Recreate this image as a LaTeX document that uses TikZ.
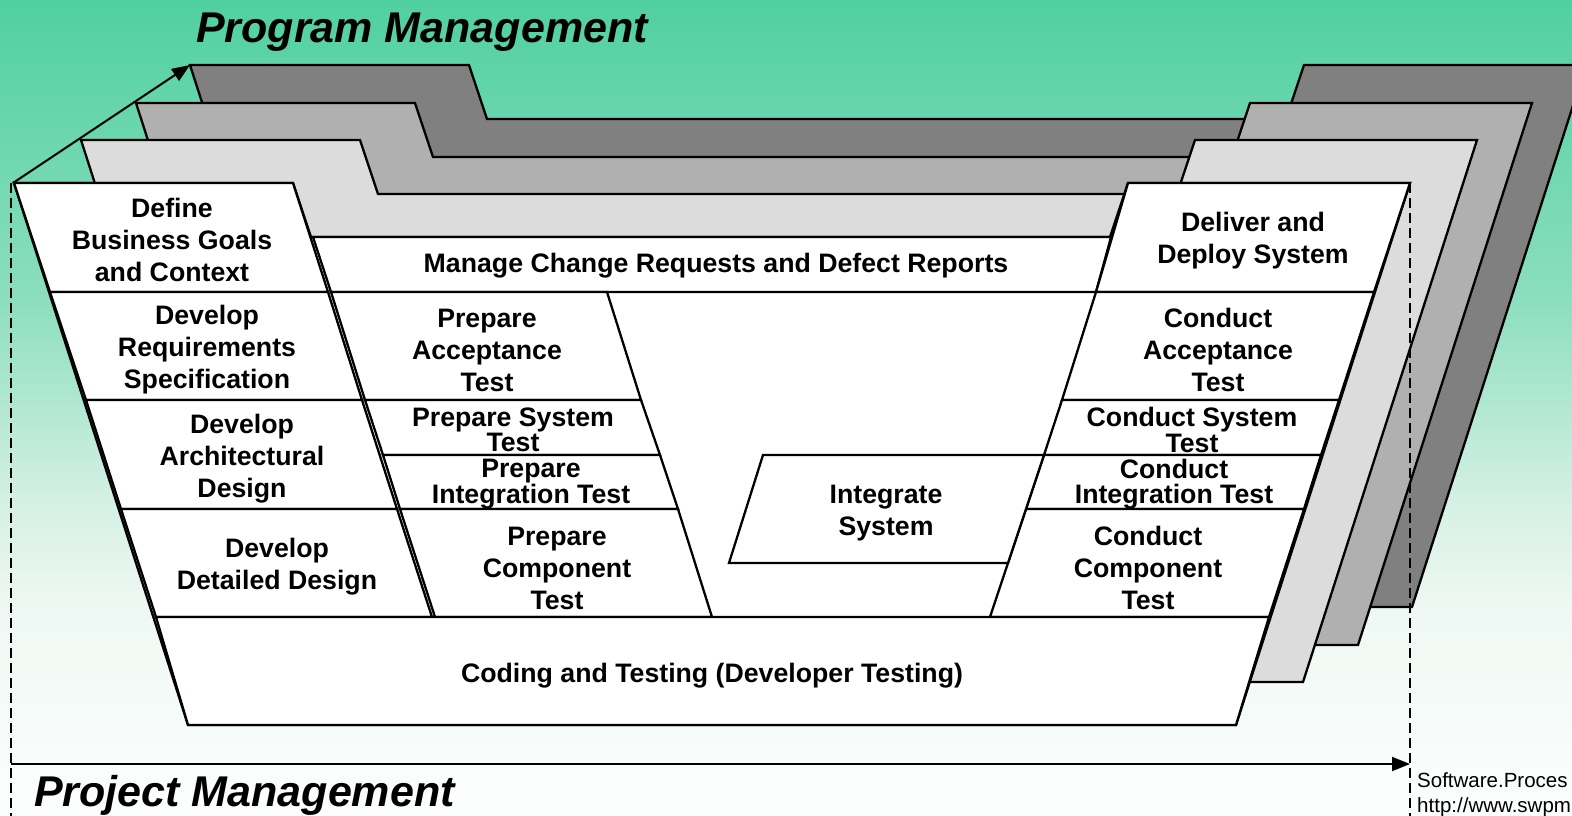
\documentclass[tikz,border=0pt]{standalone}
\usepackage{fontspec}
\setmainfont{Liberation Sans}
\usetikzlibrary{arrows.meta}
\definecolor{dkg}{RGB}{128,128,128}
\definecolor{mdg}{RGB}{176,176,176}
\definecolor{ltg}{RGB}{220,220,220}
\definecolor{bga}{RGB}{252,254,253}
\definecolor{bgb}{RGB}{238,248,243}
\definecolor{bgc}{RGB}{212,240,229}
\definecolor{bgd}{RGB}{140,222,190}
\definecolor{bge}{RGB}{80,208,162}
\pgfdeclareverticalshading{bgshade}{100bp}{color(0bp)=(bga); color(25bp)=(bga); color(38bp)=(bgb); color(44.4bp)=(bgc); color(56.6bp)=(bgd); color(75bp)=(bge); color(100bp)=(bge)}
\newcommand\cellfont{\fontsize{26.7}{32}\selectfont\bfseries}
\newcommand\tightfont{\fontsize{26.7}{25.5}\selectfont\bfseries}
\newcommand\titlefont{\fontsize{43}{48}\selectfont\bfseries\itshape}
\newcommand\smallfont{\fontsize{20.5}{25}\selectfont}
\newcommand\sheetlayer[2]{%
  \begin{scope}[shift={(#1)}]
    \filldraw[sheetline, fill=#2] (14,183) -- (293,183) -- (311,237) -- (1110,237) -- (1128,183) -- (1410,183) -- (1236,725) -- (188,725) -- cycle;
  \end{scope}}
\begin{document}
\begin{tikzpicture}[x=1pt,y=-1pt,
  sheetline/.style={draw=black, line width=2.3pt, line join=miter},
  cellbox/.style={draw=black, line width=2.3pt, fill=white, line join=miter},
  celltext/.style={font=\cellfont, align=center, inner sep=0pt, text=black},
  tighttext/.style={font=\tightfont, align=center, inner sep=0pt, text=black},
  arr/.style={draw=black, line width=2pt, -{Triangle[length=18pt,width=14pt]}},
  dashln/.style={draw=black, line width=1.8pt, dash pattern=on 10pt off 5pt}]
\useasboundingbox (0,0) rectangle (1572,816);
\shade[shading=bgshade] (0,0) rectangle (1572,816);
\begin{scope}
  \clip (0,0) rectangle (1572,816);
  \sheetlayer{176,-118}{dkg}
  \sheetlayer{122,-80}{mdg}
  \sheetlayer{67,-43}{ltg}
  \sheetlayer{0,0}{white}
\end{scope}
% left column
\draw[cellbox] (14,183) -- (293,183) -- (328,292) -- (50,292) -- cycle;
\draw[cellbox] (50,292) -- (328,292) -- (362,400) -- (86,400) -- cycle;
\draw[cellbox] (86,400) -- (362,400) -- (397,509) -- (121,509) -- cycle;
\draw[cellbox] (121,509) -- (397,509) -- (432,617) -- (156,617) -- cycle;
% manage
\draw[cellbox] (313,237) -- (1111,237) -- (1096,292) -- (331,292) -- cycle;
% prepare column
\draw[cellbox] (331,292) -- (607,292) -- (641,400) -- (365,400) -- cycle;
\draw[cellbox] (365,400) -- (641,400) -- (660,455) -- (383,455) -- cycle;
\draw[cellbox] (383,455) -- (660,455) -- (678,509) -- (400,509) -- cycle;
\draw[cellbox] (400,509) -- (678,509) -- (712,617) -- (435,617) -- cycle;
% right column
\draw[cellbox] (1128,183) -- (1410,183) -- (1374,292) -- (1096,292) -- cycle;
\draw[cellbox] (1096,292) -- (1374,292) -- (1339,400) -- (1062,400) -- cycle;
\draw[cellbox] (1062,400) -- (1339,400) -- (1321,455) -- (1044,455) -- cycle;
\draw[cellbox] (1044,455) -- (1321,455) -- (1304,509) -- (1026,509) -- cycle;
\draw[cellbox] (1026,509) -- (1304,509) -- (1269,617) -- (990,617) -- cycle;
% integrate
\draw[cellbox] (763,455) -- (1044,455) -- (1008,563) -- (729,563) -- cycle;
% coding
\draw[cellbox] (156,617) -- (1269,617) -- (1236,725) -- (188,725) -- cycle;
% texts
\node[celltext] (define) at (172,240) {Define\\Business Goals\\and Context};
\node[celltext] (devreq) at (207,350) {Develop\\Requirements\\Specification};
\node[celltext] (devarch) at (242,459) {Develop\\Architectural\\Design};
\node[celltext] (devdet) at (277,567) {Develop\\Detailed Design};
\node[celltext] (manage) at (716,266) {Manage Change Requests and Defect Reports};
\node[celltext] (prepacc) at (487,350) {Prepare\\Acceptance\\Test};
\node[tighttext] (prepsys) at (513,430) {Prepare System\\Test};
\node[tighttext] (prepint) at (531,484) {Prepare\\Integration Test};
\node[celltext] (prepcomp) at (557,568) {Prepare\\Component\\Test};
\node[celltext] (integ) at (886,513) {Integrate\\System};
\node[celltext] (deliver) at (1253,241) {Deliver and\\Deploy System};
\node[celltext] (condacc) at (1218,350) {Conduct\\Acceptance\\Test};
\node[tighttext] (condsys) at (1192,430) {Conduct System\\Test};
\node[tighttext] (condint) at (1174,484) {Conduct\\Integration Test};
\node[celltext] (condcomp) at (1148,568) {Conduct\\Component\\Test};
\node[celltext] (coding) at (712,676) {Coding and Testing (Developer Testing)};
% titles
\node[font=\titlefont, anchor=base west, inner sep=0pt] (prog) at (196,43) {Program Management};
\node[font=\titlefont, anchor=base west, inner sep=0pt] (proj) at (34,806) {Project Management};
\node[font=\smallfont, anchor=base west, inner sep=0pt] (src1) at (1417,787) {Software.Proces};
\node[font=\smallfont, anchor=base west, inner sep=0pt] (src2) at (1417,812) {http://www.swpm};
% arrows and dashed lines
\coordinate (a0) at (13,183);
\coordinate (a1) at (190,65);
\coordinate (dl0) at (11,183);
\coordinate (dl1) at (11,816);
\coordinate (dr0) at (1410,183);
\coordinate (dr1) at (1410,816);
\coordinate (h0) at (11,764);
\coordinate (h1) at (1410,764);
\draw[dashln] (dl0) -- (dl1);
\draw[dashln] (dr0) -- (dr1);
\draw[arr] (a0) -- (a1);
\draw[arr] (h0) -- (h1);
\end{tikzpicture}
\end{document}
